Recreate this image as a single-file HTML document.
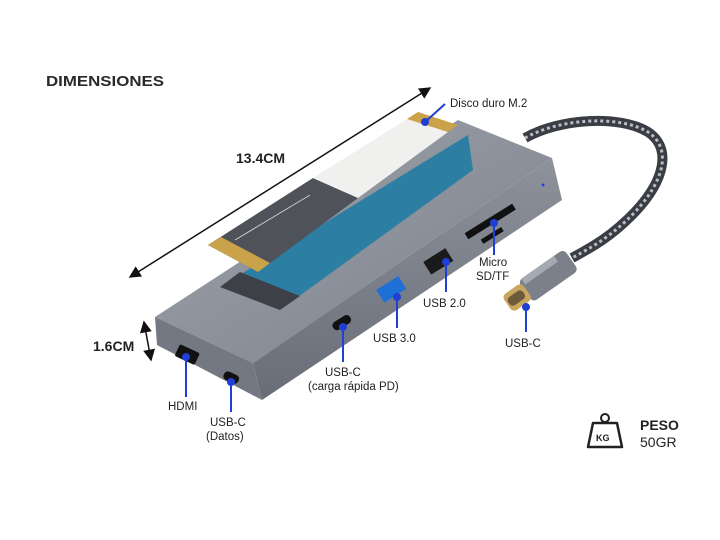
<!DOCTYPE html>
<html><head><meta charset="utf-8"><style>
html,body{margin:0;padding:0;background:#fff;}
svg{display:block;font-family:"Liberation Sans",sans-serif;}
</style></head><body>
<svg width="720" height="540" viewBox="0 0 720 540" xmlns="http://www.w3.org/2000/svg">
<defs>
<linearGradient id="top" x1="0" y1="0" x2="1" y2="1"><stop offset="0" stop-color="#9ea3ac"/><stop offset="1" stop-color="#7c818b"/></linearGradient>
<linearGradient id="front" x1="0" y1="0" x2="0" y2="1"><stop offset="0" stop-color="#8d929b"/><stop offset="1" stop-color="#686d77"/></linearGradient>
<marker id="ar" markerWidth="8" markerHeight="8" refX="7" refY="4" orient="auto-start-reverse"><path d="M0,0 L8,4 L0,8 z" fill="#111"/></marker>
</defs>
<text x="46" y="86" font-size="15" font-weight="bold" fill="#2a2a2a" textLength="118" lengthAdjust="spacingAndGlyphs">DIMENSIONES</text>
<line x1="130" y1="277" x2="430" y2="88" stroke="#111" stroke-width="1.5" marker-end="url(#ar)" marker-start="url(#ar)"/>
<text x="236" y="163" font-size="14" font-weight="bold" fill="#222">13.4CM</text>
<line x1="144" y1="322" x2="151" y2="360" stroke="#111" stroke-width="1.5" marker-end="url(#ar)" marker-start="url(#ar)"/>
<text x="93" y="351" font-size="14" font-weight="bold" fill="#222">1.6CM</text>
<!-- cable -->
<path d="M525,138 C560,118 620,115 648,132 C672,148 665,180 635,212 C610,238 590,248 572,258" stroke="#3a3d44" stroke-width="10" fill="none"/>
<path d="M525,138 C560,118 620,115 648,132 C672,148 665,180 635,212 C610,238 590,248 572,258" stroke="#b8bcc3" stroke-width="3" fill="none" stroke-dasharray="3 3"/>
<g transform="translate(545,278) rotate(-35)">
<rect x="-24" y="-13" width="56" height="26" rx="5" fill="#7b808a"/>
<rect x="-20" y="-13" width="40" height="7" fill="#a5a9b1"/>
<rect x="-46" y="-10" width="24" height="20" rx="5" fill="#c9a560"/>
<rect x="-44" y="-5" width="18" height="10" rx="4" fill="#6c5a3a"/>
</g>
<!-- hub -->
<polygon points="155,317 458,120 552,158 253,363" fill="url(#top)"/>
<polygon points="253,363 552,158 562,200 262,400" fill="url(#front)"/>
<polygon points="155,317 253,363 262,400 157,345" fill="#737883"/>
<!-- window -->
<polygon points="220,287 280,310 473,170 468,135" fill="#2c7fa3"/>
<polygon points="220,287 280,310 300,296 240,272" fill="#3d4046"/>
<!-- ssd -->
<polygon points="208,245 313,178 358,198 258,272" fill="#4f5359"/>
<polygon points="313,178 407,119 448,132 358,198" fill="#f0f0ee"/>
<polygon points="208,245 221,237 270,263 258,272" fill="#caa24a"/>
<polygon points="407,119 418,112 458,125 448,132" fill="#caa24a"/>
<line x1="235" y1="240" x2="310" y2="195" stroke="#ccc" stroke-width="1"/>
<!-- ports -->
<rect x="176" y="348" width="22" height="13" rx="2" fill="#111" transform="rotate(25 187 355)"/>
<rect x="223" y="373" width="16" height="9" rx="4" fill="#111" transform="rotate(25 231 378)"/>
<rect x="332" y="318" width="20" height="9" rx="4" fill="#111" transform="rotate(-32 342 323)"/>
<rect x="378" y="282" width="26" height="15" fill="#1e6fd6" transform="rotate(-32 391 289)"/>
<rect x="425" y="254" width="26" height="15" fill="#1a1a1a" transform="rotate(-32 438 261)"/>
<rect x="462" y="218" width="56" height="7" fill="#111" transform="rotate(-32 490 221)"/>
<rect x="480" y="233" width="24" height="5" fill="#111" transform="rotate(-32 492 235)"/>
<circle cx="543" cy="185" r="1.5" fill="#2a3fe0"/>
<!-- leaders -->
<g stroke="#1f3fd6" stroke-width="2" fill="#1f3fd6">
<line x1="425" y1="122" x2="445" y2="104"/><circle cx="425" cy="122" r="3"/>
<line x1="494" y1="223" x2="494" y2="255"/><circle cx="494" cy="223" r="3"/>
<line x1="446" y1="262" x2="446" y2="292"/><circle cx="446" cy="262" r="3"/>
<line x1="397" y1="297" x2="397" y2="328"/><circle cx="397" cy="297" r="3"/>
<line x1="526" y1="307" x2="526" y2="332"/><circle cx="526" cy="307" r="3"/>
<line x1="343" y1="327" x2="343" y2="362"/><circle cx="343" cy="327" r="3"/>
<line x1="186" y1="357" x2="186" y2="397"/><circle cx="186" cy="357" r="3"/>
<line x1="231" y1="382" x2="231" y2="412"/><circle cx="231" cy="382" r="3"/>
</g>
<g font-size="11.5" fill="#222">
<text x="450" y="107">Disco duro M.2</text>
<text x="479" y="266">Micro</text>
<text x="476" y="280">SD/TF</text>
<text x="423" y="307">USB 2.0</text>
<text x="373" y="342">USB 3.0</text>
<text x="505" y="347">USB-C</text>
<text x="325" y="376">USB-C</text>
<text x="308" y="390">(carga rápida PD)</text>
<text x="168" y="410">HDMI</text>
<text x="210" y="426">USB-C</text>
<text x="206" y="440">(Datos)</text>
</g>
<!-- weight -->
<path d="M593,423 L617,423 L622,447 L588,447 Z" fill="none" stroke="#222" stroke-width="2.5" stroke-linejoin="round"/>
<circle cx="605" cy="418" r="4" fill="none" stroke="#222" stroke-width="2"/>
<text x="596" y="441" font-size="9" font-weight="bold" fill="#222">KG</text>
<text x="640" y="430" font-size="14" font-weight="bold" fill="#222">PESO</text>
<text x="640" y="447" font-size="14" fill="#222">50GR</text>
</svg>
</body></html>
